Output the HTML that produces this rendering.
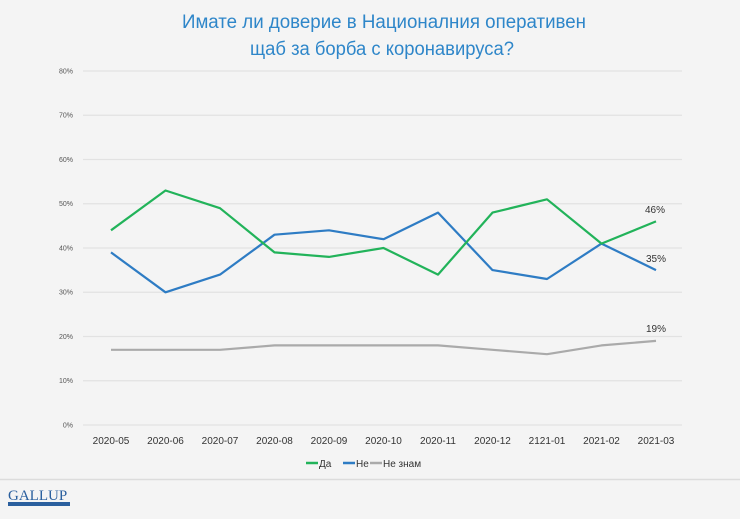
<!DOCTYPE html>
<html><head><meta charset="utf-8"><style>
body{margin:0;background:#f4f4f4;}
svg{display:block;font-family:"Liberation Sans",sans-serif;}
</style></head><body>
<svg width="740" height="519" viewBox="0 0 740 519">
<rect width="740" height="519" fill="#f4f4f4"/>
<g font-family="'Liberation Sans',sans-serif" fill="#2e86c9" font-size="19" text-anchor="middle">
<text x="384" y="28" textLength="404" lengthAdjust="spacingAndGlyphs">Имате ли доверие в Националния оперативен</text>
<text x="382" y="55" textLength="264" lengthAdjust="spacingAndGlyphs">щаб за борба с коронавируса?</text>
</g>
<g stroke="#e2e2e2" stroke-width="1.2">
<line x1="83" x2="682" y1="71" y2="71"/><line x1="83" x2="682" y1="115.25" y2="115.25"/>
<line x1="83" x2="682" y1="159.5" y2="159.5"/><line x1="83" x2="682" y1="203.75" y2="203.75"/>
<line x1="83" x2="682" y1="248" y2="248"/><line x1="83" x2="682" y1="292.25" y2="292.25"/>
<line x1="83" x2="682" y1="336.5" y2="336.5"/><line x1="83" x2="682" y1="380.75" y2="380.75"/>
<line x1="83" x2="682" y1="425" y2="425"/>
</g>
<g font-size="7" fill="#555" text-anchor="end">
<text x="73" y="73.5">80%</text><text x="73" y="117.5">70%</text><text x="73" y="162">60%</text>
<text x="73" y="206">50%</text><text x="73" y="250.5">40%</text><text x="73" y="294.5">30%</text>
<text x="73" y="339">20%</text><text x="73" y="383">10%</text><text x="73" y="427.5">0%</text>
</g>
<g font-size="10" fill="#333" text-anchor="middle">
<text x="111" y="444">2020-05</text><text x="165.5" y="444">2020-06</text><text x="220" y="444">2020-07</text>
<text x="274.5" y="444">2020-08</text><text x="329" y="444">2020-09</text><text x="383.5" y="444">2020-10</text>
<text x="438" y="444">2020-11</text><text x="492.5" y="444">2020-12</text><text x="547" y="444">2121-01</text>
<text x="601.5" y="444">2021-02</text><text x="656" y="444">2021-03</text>
</g>
<g fill="none" stroke-width="2.2" stroke-linejoin="round">
<polyline stroke="#aaaaaa" points="111,349.8 165.5,349.8 220,349.8 274.5,345.4 329,345.4 383.5,345.4 438,345.4 492.5,349.8 547,354.2 601.5,345.4 656,340.9"/>
<polyline stroke="#2e7cc4" points="111,252.4 165.5,292.3 220,274.6 274.5,234.7 329,230.3 383.5,239.2 438,212.6 492.5,270.1 547,279 601.5,243.6 656,270.1"/>
<polyline stroke="#22b35a" points="111,230.3 165.5,190.5 220,208.2 274.5,252.4 329,256.9 383.5,248 438,274.6 492.5,212.6 547,199.3 601.5,243.6 656,221.4"/>
</g>
<g font-size="10" fill="#333" text-anchor="middle">
<text x="655" y="213">46%</text><text x="656" y="262">35%</text><text x="656" y="332">19%</text>
</g>
<g font-size="10" fill="#333">
<line x1="306" x2="318" y1="463" y2="463" stroke="#22b35a" stroke-width="2.5"/><text x="319" y="467">Да</text>
<line x1="343" x2="355" y1="463" y2="463" stroke="#2e7cc4" stroke-width="2.5"/><text x="356" y="467">Не</text>
<line x1="370" x2="382" y1="463" y2="463" stroke="#aaaaaa" stroke-width="2.5"/><text x="383" y="467">Не знам</text>
</g>
<line x1="0" x2="740" y1="479.5" y2="479.5" stroke="#dcdcdc" stroke-width="1.5"/>
<text x="8" y="500" font-family="'Liberation Serif',serif" font-size="15" fill="#2a5f9e">GALLUP</text>
<rect x="8" y="502" width="62" height="4" fill="#2a5f9e"/>
</svg>
</body></html>
